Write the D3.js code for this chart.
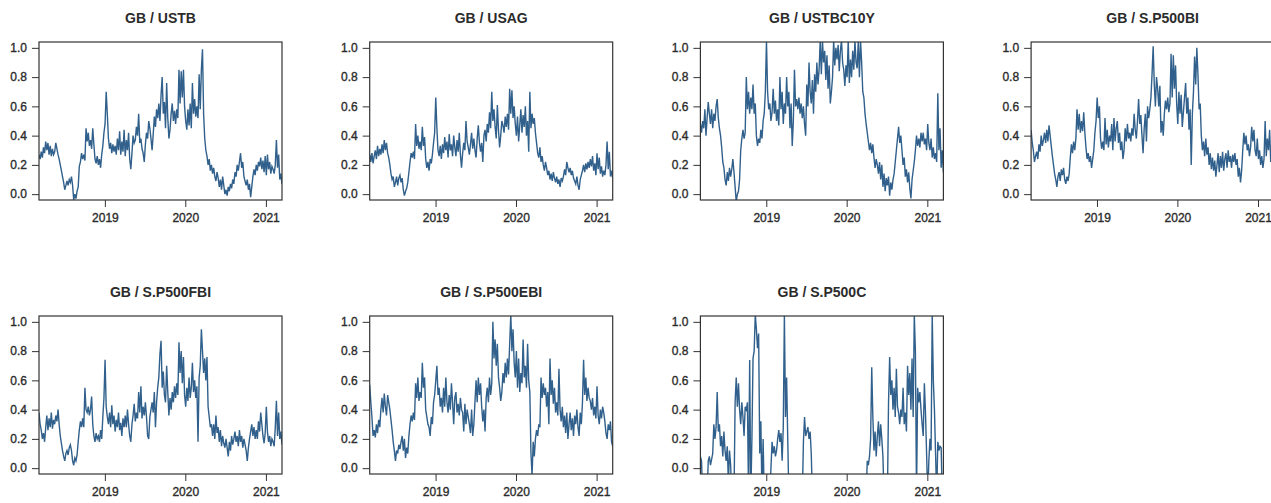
<!DOCTYPE html>
<html lang="en">
<head>
<meta charset="UTF-8">
<title>GB correlations</title>
<script src="https://d3js.org/d3.v7.min.js"></script>
<style>
  body { margin: 0; background: #fff; }
  svg text { font-family: "Liberation Sans", Arial, sans-serif; fill: #2b2b2b; }
  .title { font-size: 14px; font-weight: bold; }
  .tick text { font-size: 12px; stroke: #2b2b2b; stroke-width: 0.35px; }
</style>
</head>
<body>
<div id="chart"></div>
<script>
// panel titles
const titles = ["GB / USTB", "GB / USAG", "GB / USTBC10Y", "GB / S.P500BI",
                "GB / S.P500FBI", "GB / S.P500EBI", "GB / S.P500C"];

// first and last observation
const startDate = "2018-03-08";
const endDate = "2021-03-15";

// y ticks and x tick years
const yTicks = [0, 0.2, 0.4, 0.6, 0.8, 1.0];
const xTickYears = ["2019-01-01", "2020-01-01", "2021-01-01"];

// values, about 6 per month (Mar 2018 .. Mar 2021)
const ustb = [
  0.27,0.24,0.29,0.25,0.32,
  0.28,0.36,0.30,0.35,0.27,0.33, 0.26,0.31,0.27,0.29,0.35,0.31, 0.27,0.24,0.20,0.16,0.12,0.08,
  0.03,0.06,0.09,0.06,0.10,0.08, 0.12,0.06,-0.04,0.00,-0.03,0.02, 0.05,0.19,0.22,0.28,0.24,0.27,
  0.23,0.45,0.36,0.42,0.33,0.37, 0.31,0.45,0.34,0.24,0.21,0.26, 0.20,0.24,0.18,0.27,0.33,0.42,
  0.48,0.70,0.55,0.38,0.31,0.35, 0.28,0.34,0.29,0.33,0.27,0.38, 0.30,0.43,0.27,0.36,0.29,0.44,
  0.26,0.37,0.30,0.42,0.24,0.17, 0.28,0.40,0.35,0.37,0.46,0.40, 0.55,0.35,0.38,0.31,0.28,0.22,
  0.34,0.42,0.38,0.50,0.45,0.38, 0.30,0.41,0.53,0.46,0.58,0.52, 0.62,0.50,0.68,0.80,0.55,0.63,
  0.45,0.76,0.52,0.38,0.44,0.55, 0.62,0.50,0.57,0.48,0.58,0.52, 0.85,0.62,0.84,0.66,0.85,0.60,
  0.50,0.44,0.58,0.47,0.62,0.45, 0.76,0.55,0.65,0.53,0.60,0.52, 0.82,0.58,0.85,0.99,0.55,0.38,
  0.30,0.26,0.20,0.24,0.16,0.20, 0.14,0.18,0.12,0.09,0.15,0.11, 0.05,0.10,0.03,0.12,0.06,0.00,
  0.03,-0.01,0.05,0.02,0.07,0.04, 0.10,0.07,0.15,0.12,0.20,0.16, 0.22,0.28,0.18,0.22,0.12,0.09,
  0.06,0.10,0.03,0.07,-0.02,0.05, 0.12,0.17,0.13,0.20,0.16,0.22, 0.19,0.25,0.17,0.23,0.15,0.26,
  0.13,0.27,0.17,0.22,0.14,0.19, 0.17,0.14,0.20,0.37,0.18,0.27,
  0.10,0.14,0.07
];
const usag = [
  0.27,0.22,0.28,0.21,0.26,
  0.30,0.24,0.33,0.26,0.31,0.27, 0.34,0.28,0.37,0.30,0.35,0.28, 0.25,0.20,0.14,0.10,0.12,0.05,
  0.08,0.12,0.06,0.11,0.13,0.08, 0.11,0.03,-0.01,0.02,0.04,0.08, 0.15,0.22,0.28,0.25,0.29,0.24,
  0.48,0.33,0.40,0.31,0.36,0.30, 0.46,0.33,0.39,0.24,0.18,0.22, 0.16,0.24,0.21,0.27,0.35,0.42,
  0.66,0.45,0.30,0.26,0.33,0.24, 0.34,0.28,0.39,0.30,0.36,0.25, 0.41,0.30,0.34,0.26,0.40,0.32,
  0.26,0.37,0.29,0.42,0.27,0.18, 0.28,0.35,0.30,0.50,0.36,0.32, 0.27,0.34,0.42,0.31,0.38,0.30,
  0.25,0.38,0.47,0.35,0.29,0.35, 0.22,0.40,0.44,0.36,0.48,0.42, 0.56,0.45,0.70,0.50,0.58,0.46,
  0.38,0.61,0.44,0.32,0.40,0.50, 0.47,0.42,0.53,0.46,0.55,0.44, 0.72,0.55,0.71,0.52,0.60,0.48,
  0.40,0.53,0.36,0.47,0.58,0.42, 0.54,0.46,0.60,0.40,0.50,0.29, 0.70,0.45,0.55,0.48,0.52,0.42,
  0.35,0.28,0.25,0.32,0.22,0.26, 0.20,0.16,0.22,0.18,0.13,0.16, 0.10,0.14,0.09,0.15,0.11,0.08,
  0.12,0.07,0.10,0.05,0.11,0.09, 0.12,0.17,0.13,0.22,0.18,0.15, 0.18,0.13,0.16,0.11,0.09,0.07,
  0.12,0.06,0.03,0.10,0.13,0.16, 0.20,0.15,0.21,0.17,0.22,0.18, 0.24,0.19,0.26,0.16,0.21,0.13,
  0.28,0.17,0.25,0.14,0.19,0.12, 0.16,0.13,0.20,0.36,0.17,0.29,
  0.12,0.16,0.11
];
const ustbc10y = [
  0.48,0.42,0.50,0.45,0.58,
  0.40,0.52,0.63,0.55,0.48,0.58, 0.45,0.55,0.50,0.60,0.65,0.52, 0.45,0.40,0.32,0.22,0.18,0.10,
  0.06,0.15,0.09,0.18,0.12,0.17, 0.24,0.15,0.05,-0.05,0.00,0.02, 0.10,0.30,0.38,0.44,0.38,0.42,
  0.80,0.58,0.70,0.55,0.66,0.58, 0.75,0.55,0.62,0.40,0.33,0.38, 0.35,0.44,0.38,0.50,0.55,0.70,
  1.05,0.70,0.58,0.62,0.50,0.56, 0.72,0.55,0.64,0.50,0.58,0.47, 0.80,0.58,0.70,0.48,0.62,0.55,
  0.80,0.60,0.70,0.45,0.62,0.33, 0.50,0.85,0.60,0.65,0.58,0.66, 0.55,0.62,0.52,0.60,0.48,0.40,
  0.75,0.60,0.90,0.70,0.62,0.78, 0.55,0.82,0.70,0.90,0.75,0.85, 1.05,0.82,1.05,0.90,0.98,0.78,
  0.95,0.72,0.88,0.62,0.70,0.80, 1.05,0.88,1.00,0.92,1.02,0.84, 0.98,1.05,0.90,0.85,0.74,0.88,
  0.80,1.05,0.76,0.92,0.80,0.98, 0.85,1.05,0.90,0.86,1.05,0.80, 1.05,0.90,0.70,0.66,0.55,0.48,
  0.42,0.36,0.30,0.35,0.28,0.34, 0.25,0.18,0.24,0.20,0.14,0.22, 0.10,0.20,0.05,0.14,0.02,0.11,
  0.06,0.12,-0.01,0.08,0.03,0.10, 0.14,0.22,0.30,0.38,0.46,0.35, 0.40,0.30,0.20,0.25,0.12,0.17,
  0.08,0.15,0.04,-0.03,0.10,0.16, 0.22,0.30,0.40,0.33,0.38,0.32, 0.42,0.36,0.42,0.34,0.38,0.30,
  0.48,0.35,0.30,0.38,0.25,0.32, 0.24,0.28,0.22,0.69,0.30,0.45,
  0.18,0.30,0.15
];
const sp500bi = [
  0.44,0.35,0.30,0.22,0.26,
  0.29,0.24,0.34,0.29,0.40,0.33, 0.37,0.42,0.35,0.44,0.36,0.47, 0.40,0.33,0.26,0.20,0.14,0.10,
  0.05,0.12,0.15,0.09,0.17,0.13, 0.18,0.10,0.07,0.12,0.09,0.14, 0.25,0.34,0.28,0.36,0.30,0.38,
  0.58,0.44,0.55,0.42,0.50,0.43, 0.56,0.42,0.32,0.24,0.28,0.22, 0.26,0.18,0.24,0.30,0.42,0.50,
  0.66,0.52,0.60,0.38,0.31,0.36, 0.30,0.52,0.34,0.44,0.32,0.40, 0.36,0.48,0.30,0.52,0.36,0.45,
  0.50,0.35,0.42,0.30,0.36,0.24, 0.30,0.45,0.36,0.48,0.38,0.42, 0.36,0.45,0.40,0.55,0.44,0.38,
  0.50,0.65,0.48,0.54,0.40,0.28, 0.45,0.55,0.36,0.60,0.52,0.58, 0.66,0.82,1.01,0.75,0.60,0.80,
  0.72,0.60,0.74,0.42,0.50,0.40, 0.55,0.64,0.58,0.66,0.56,0.62, 0.96,0.66,0.95,0.72,0.88,0.62,
  0.48,0.70,0.55,0.68,0.46,0.56, 0.66,0.76,0.55,0.66,0.44,0.58, 0.20,0.55,0.70,0.94,0.75,1.00,
  0.82,0.58,0.62,0.40,0.30,0.36, 0.26,0.38,0.27,0.32,0.20,0.28, 0.17,0.25,0.16,0.23,0.12,0.20,
  0.28,0.15,0.26,0.18,0.29,0.16, 0.24,0.28,0.18,0.30,0.22,0.26, 0.18,0.27,0.22,0.28,0.20,0.24,
  0.12,0.18,0.08,0.16,0.30,0.42, 0.34,0.40,0.30,0.34,0.26,0.32, 0.46,0.36,0.44,0.30,0.26,0.38,
  0.24,0.30,0.20,0.26,0.18,0.24, 0.50,0.26,0.38,0.30,0.44,0.22,
  0.28,0.48,0.30
];
const sp500fbi = [
  0.38,0.30,0.26,0.20,0.24,
  0.18,0.28,0.36,0.26,0.34,0.28, 0.38,0.27,0.33,0.30,0.36,0.32, 0.40,0.30,0.22,0.17,0.12,0.08,
  0.05,0.10,0.12,0.09,0.14,0.16, 0.12,0.05,0.02,0.07,0.05,0.09, 0.18,0.26,0.32,0.28,0.34,0.28,
  0.55,0.40,0.38,0.42,0.36,0.40, 0.49,0.30,0.22,0.18,0.24,0.20, 0.22,0.18,0.26,0.20,0.35,0.48,
  0.74,0.42,0.35,0.30,0.38,0.28, 0.43,0.30,0.36,0.25,0.33,0.28, 0.38,0.26,0.31,0.22,0.34,0.28,
  0.36,0.28,0.40,0.30,0.22,0.18, 0.30,0.36,0.44,0.32,0.38,0.34, 0.52,0.38,0.56,0.34,0.42,0.36,
  0.45,0.35,0.22,0.20,0.35,0.40, 0.45,0.38,0.52,0.28,0.45,0.55, 0.62,0.78,0.87,0.55,0.66,0.50,
  0.45,0.70,0.52,0.36,0.48,0.40, 0.52,0.45,0.56,0.48,0.58,0.50, 0.86,0.65,0.80,0.58,0.76,0.50,
  0.42,0.55,0.46,0.62,0.48,0.55, 0.72,0.52,0.60,0.48,0.56,0.18, 0.62,0.70,0.95,0.80,0.65,0.75,
  0.60,0.76,0.42,0.35,0.28,0.30, 0.22,0.30,0.20,0.36,0.24,0.28, 0.18,0.26,0.15,0.22,0.17,0.14,
  0.20,0.14,0.08,0.18,0.12,0.22, 0.16,0.20,0.25,0.18,0.22,0.15, 0.26,0.18,0.22,0.14,0.20,0.16,
  0.12,0.05,0.14,0.20,0.25,0.30, 0.22,0.28,0.20,0.26,0.20,0.32, 0.25,0.38,0.30,0.22,0.17,0.24,
  0.42,0.25,0.18,0.22,0.15,0.20, 0.18,0.15,0.28,0.46,0.22,0.38,
  0.20,0.25,0.16
];
const sp500ebi = [
  0.57,0.45,0.35,0.22,0.26,
  0.21,0.30,0.24,0.33,0.28,0.40, 0.48,0.38,0.51,0.42,0.36,0.50, 0.45,0.40,0.33,0.26,0.18,0.12,
  0.05,0.12,0.10,0.16,0.13,0.18, 0.22,0.12,0.20,0.07,0.14,0.10, 0.22,0.30,0.36,0.32,0.38,0.33,
  0.58,0.48,0.62,0.46,0.52,0.48, 0.72,0.55,0.62,0.40,0.35,0.30, 0.28,0.22,0.35,0.30,0.45,0.50,
  0.60,0.70,0.50,0.55,0.42,0.48, 0.38,0.55,0.42,0.62,0.45,0.38, 0.50,0.40,0.58,0.45,0.30,0.48,
  0.52,0.38,0.44,0.36,0.48,0.40, 0.38,0.25,0.44,0.30,0.40,0.35, 0.30,0.24,0.40,0.22,0.30,0.45,
  0.60,0.45,0.62,0.50,0.58,0.42, 0.32,0.40,0.25,0.48,0.55,0.45, 0.62,0.50,0.58,1.00,0.75,0.88,
  0.70,0.85,0.62,0.55,0.46,0.52, 0.65,0.58,0.72,0.62,0.75,0.64, 0.85,1.05,0.80,0.95,0.72,0.62,
  0.80,0.55,0.75,0.52,0.65,0.58, 0.88,0.62,0.70,0.55,0.85,0.60, 0.52,0.10,-0.05,0.18,0.08,0.20,
  0.26,0.22,0.30,0.28,0.62,0.48, 0.58,0.50,0.55,0.42,0.52,0.30, 0.75,0.50,0.60,0.44,0.55,0.38,
  0.45,0.36,0.68,0.40,0.32,0.42, 0.28,0.36,0.24,0.38,0.20,0.30, 0.38,0.26,0.34,0.22,0.36,0.30,
  0.40,0.28,0.22,0.38,0.30,0.45, 0.74,0.50,0.62,0.46,0.55,0.48, 0.46,0.40,0.48,0.36,0.42,0.34,
  0.56,0.36,0.30,0.40,0.34,0.42, 0.38,0.32,0.24,0.20,0.30,0.26,
  0.32,0.18,0.15
];
const sp500c = [
  0.08,0.05,-0.20,-0.20,-0.20,
  -0.20,-0.20,0.05,0.08,0.02,0.06, 0.10,0.30,0.20,0.28,0.52,0.25, 0.30,0.15,0.22,0.08,0.25,0.12,
  0.05,0.15,-0.10,0.12,0.02,-0.20, -0.20,-0.20,0.45,0.62,0.42,0.58, 0.40,0.30,0.45,0.35,0.22,0.42,
  0.40,0.45,-0.20,0.74,-0.20,0.20, 0.75,0.80,1.05,0.95,0.82,0.92, 0.10,0.32,-0.20,0.20,-0.20,-0.20,
  -0.20,-0.20,-0.20,-0.20,0.00,0.18, 0.10,0.15,0.08,0.12,0.20,0.26, 0.18,0.24,0.05,0.28,1.05,0.35,
  0.62,0.20,-0.20,-0.20,-0.20,-0.20, -0.20,-0.20,-0.20,-0.20,-0.20,-0.20, -0.20,-0.20,-0.20,0.18,0.35,0.22,
  0.25,0.28,0.20,0.25,0.10,-0.20, -0.20,-0.20,-0.20,-0.20,-0.20,-0.20, -0.20,-0.20,-0.20,-0.20,-0.20,-0.20,
  -0.20,-0.20,-0.20,-0.20,-0.20,-0.20, -0.20,-0.20,-0.20,-0.20,-0.20,-0.20, -0.20,-0.20,-0.20,-0.20,-0.20,-0.20,
  -0.20,-0.20,-0.20,-0.20,-0.20,-0.20, -0.20,-0.20,-0.20,-0.20,-0.20,-0.20, -0.20,-0.20,-0.20,-0.20,-0.20,-0.20,
  0.05,0.02,0.08,0.20,0.69,0.35, 0.12,0.25,0.08,0.22,0.32,0.15, 0.30,0.20,0.08,-0.20,-0.20,-0.20,
  -0.20,0.45,0.76,0.50,0.60,0.40, 0.55,0.35,0.68,0.42,0.38,0.30, 0.40,0.35,0.55,0.30,0.38,0.25,
  0.70,0.50,0.65,0.40,0.75,0.35, 1.05,0.80,-0.20,0.55,0.45,0.52, 0.40,0.30,0.22,0.58,0.38,0.10,
  -0.20,0.05,0.20,0.12,1.05,0.60, 0.40,0.10,-0.20,0.18,0.12,0.15,
  0.14,-0.20,-0.20
];

const seriesList = [ustb, usag, ustbc10y, sp500bi, sp500fbi, sp500ebi, sp500c];

const width = 1271, height = 503;
const pw = 243, ph = 158;
const colStep = 330.7, rowStep = 274;
const x0 = 39, y0 = 42;

const parse = d3.timeParse("%Y-%m-%d");
const tStart = parse(startDate), tEnd = parse(endDate);

const svg = d3.select("#chart").append("svg")
  .attr("width", width)
  .attr("height", height);

seriesList.forEach((vals, k) => {
  const col = k % 4, row = Math.floor(k / 4);
  const left = x0 + col * colStep, top = y0 + row * rowStep;

  const xScale = d3.scaleTime().domain([tStart, tEnd]).range([0, pw]);
  const yScale = d3.scaleLinear().domain([-0.04, 1.04]).range([ph, 0]);
  // spread the observations evenly over the date range
  const idx = d3.scaleLinear().domain([0, vals.length - 1]).range([tStart.getTime(), tEnd.getTime()]);

  const g = svg.append("g").attr("transform", "translate(" + left + "," + top + ")");

  g.append("clipPath").attr("id", "clip" + k)
    .append("rect").attr("width", pw).attr("height", ph);

  const line = d3.line()
    .x((d, i) => xScale(new Date(idx(i))))
    .y(d => yScale(d));

  g.append("path")
    .datum(vals)
    .attr("clip-path", "url(#clip" + k + ")")
    .attr("fill", "none")
    .attr("stroke", "#30608b")
    .attr("stroke-width", 1.4)
    .attr("stroke-linejoin", "miter")
    .attr("d", line);

  // y axis
  const yAxis = d3.axisLeft(yScale).tickValues(yTicks).tickFormat(d3.format(".1f"))
    .tickSize(7).tickPadding(5);
  g.append("g").call(yAxis)
    .call(a => a.select(".domain").remove())
    .call(a => a.selectAll("line").attr("stroke", "#333"));

  // x axis
  const xAxis = d3.axisBottom(xScale).tickValues(xTickYears.map(parse))
    .tickFormat(d3.timeFormat("%Y")).tickSize(7).tickPadding(6);
  g.append("g").attr("transform", "translate(0," + ph + ")").call(xAxis)
    .call(a => a.select(".domain").remove())
    .call(a => a.selectAll("line").attr("stroke", "#333"));

  g.selectAll(".tick text").attr("font-family", null).attr("font-size", null);

  // box
  g.append("rect")
    .attr("width", pw).attr("height", ph)
    .attr("fill", "none").attr("stroke", "#333").attr("stroke-width", 1.2);

  g.append("text")
    .attr("class", "title")
    .attr("x", pw / 2).attr("y", -19)
    .attr("text-anchor", "middle")
    .text(titles[k]);
});
</script>
</body>
</html>
